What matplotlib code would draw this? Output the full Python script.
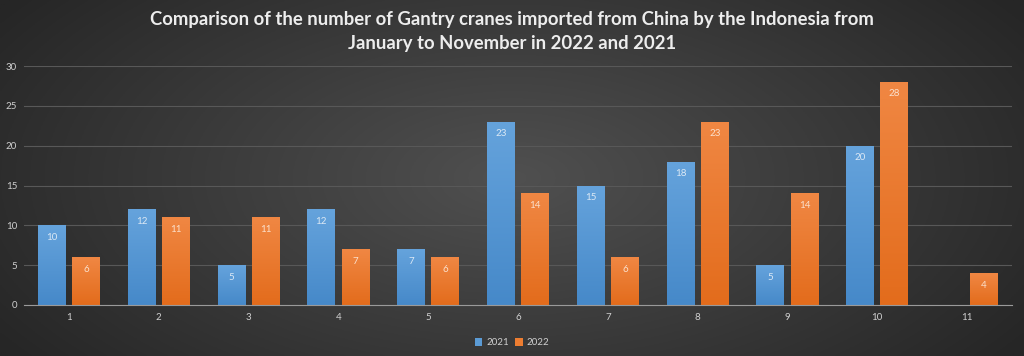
import numpy as np
import matplotlib.pyplot as plt
from matplotlib.colors import LinearSegmentedColormap

months = [str(i) for i in range(1, 12)]
v2021 = [10, 12, 5, 12, 7, 23, 15, 18, 5, 20, 0]
v2022 = [6, 11, 11, 7, 6, 14, 6, 23, 14, 28, 4]

plt.rcParams['font.family'] = ['Lato', 'DejaVu Sans']

fig = plt.figure(figsize=(10.24, 3.56), dpi=100)

# radial gradient background, lighter in the middle
bg = fig.add_axes([0, 0, 1, 1], zorder=-10)
yy, xx = np.mgrid[-1:1:200j, -1:1:500j]
r = np.clip(np.sqrt(xx ** 2 + (yy * 0.7) ** 2) / 1.2, 0, 1)
lev = 0x50 - (0x50 - 0x26) * r
img = np.dstack([lev, lev, lev]) / 255
bg.imshow(img, aspect='auto', extent=[0, 1, 0, 1])
bg.axis('off')

ax = fig.add_axes([24 / 1024, 51 / 356, 988 / 1024, 239 / 356])
ax.patch.set_alpha(0)

x = np.arange(len(months))
w = 0.31
gap = 0.035
b1 = ax.bar(x - w / 2 - gap, v2021, w, color='#5b9bd5', label='2021', zorder=3)
b2 = ax.bar(x + w / 2 + gap, v2022, w, color='#ed7d31', label='2022', zorder=3)

# vertical gradient inside each bar
grad = np.linspace(0, 1, 100).reshape(-1, 1)
for bars, top, bot in [(b1, '#65a3dc', '#4689c9'), (b2, '#f08743', '#e36c1c')]:
    cm = LinearSegmentedColormap.from_list('g', [bot, top])
    for b in bars:
        h = b.get_height()
        if h == 0:
            continue
        x0 = b.get_x()
        im = ax.imshow(grad, cmap=cm, aspect='auto', origin='lower',
                       extent=[x0, x0 + b.get_width(), 0, h], zorder=4)
        im.set_clip_path(b)

for bars, vals, tc in [(b1, v2021, '#dce9f5'), (b2, v2022, '#fbe0cc')]:
    for b, v in zip(bars, vals):
        if v == 0:
            continue
        ax.text(b.get_x() + b.get_width() / 2, v - 1.5, str(v), ha='center',
                va='center', fontsize=7, color=tc, zorder=5)

ax.set_xlim(-0.5, len(months) - 0.5)
ax.set_ylim(0, 30)
ax.set_yticks(range(0, 31, 5))
ax.set_xticks(x)
ax.set_xticklabels(months)
ax.tick_params(colors='#d0d0d0', labelsize=7, length=0)
ax.tick_params(axis='y', pad=5)
ax.tick_params(axis='x', pad=6)
ax.grid(axis='y', color='#585858', linewidth=0.8, zorder=0)
for s in ['top', 'right', 'left']:
    ax.spines[s].set_visible(False)
ax.spines['bottom'].set_color('#9a9a9a')
ax.spines['bottom'].set_zorder(6)

fig.legend(loc='lower center', bbox_to_anchor=(0.5, 0.0), ncol=2, frameon=False,
           fontsize=7, labelcolor='#d0d0d0', handlelength=0.8, handleheight=0.8,
           handletextpad=0.4, columnspacing=0.6)

fig.text(0.5, 0.968, 'Comparison of the number of Gantry cranes imported from China by the Indonesia from\nJanuary to November in 2022 and 2021',
         ha='center', va='top', fontsize=13.3, fontweight='bold', color='#ededed',
         linespacing=1.5)

fig.savefig('out.png', dpi=100)
